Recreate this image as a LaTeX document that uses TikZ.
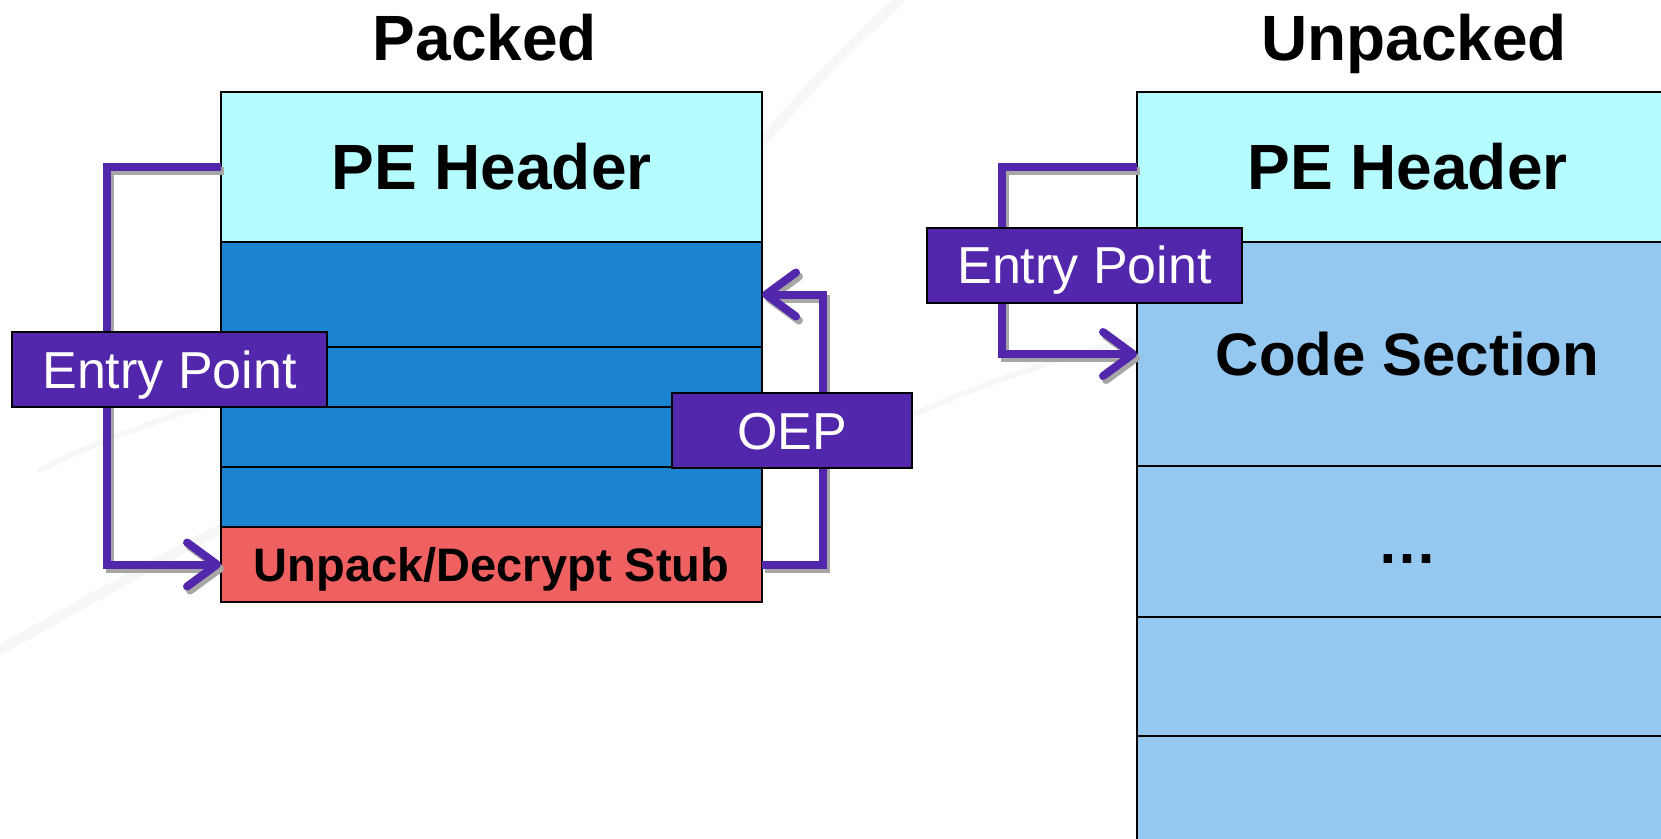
\documentclass[tikz,border=0pt]{standalone}
\usepackage{fontspec}
\setmainfont{Liberation Sans}
\usepackage{xcolor}
\usetikzlibrary{arrows.meta, calc, positioning}
\definecolor{hdrcyan}{HTML}{B4FCFF}
\definecolor{secblue}{HTML}{1C83D1}
\definecolor{seclight}{HTML}{95C8F0}
\definecolor{stubred}{HTML}{EF6060}
\definecolor{tagpurple}{HTML}{5227AB}
\tikzset{
  % section cell style
  sect/.style={
    draw
    , line width=2pt
    , minimum width=541pt
    , inner sep=0pt
    , outer sep=0pt
    , text height=45.8pt
    , text depth=0pt
    , font=\bfseries\fontsize{64}{70}\selectfont
  },
  % purple label style
  tag/.style={
    draw
    , fill=tagpurple
    , text=white
    , line width=2pt
    , minimum height=75pt
    , inner sep=0pt
    , text height=37.2pt
    , text depth=0pt
    , font=\fontsize{52}{60}\selectfont
  },
  % jump arrow style
  parr/.style={
    draw=tagpurple
    , line width=8pt
    , -{Straight Barb[length=30pt,width=44pt,round]}
  },
  % and its shadow
  pshadow/.style={
    parr
    , draw=black!35
    , transform canvas={xshift=3pt,yshift=-4pt}
  },
  ttl/.style={
    anchor=base
    , font=\bfseries\fontsize{64}{70}\selectfont
  },
}

\begin{document}
\begin{tikzpicture}[x=1pt, y=-1pt]
      \useasboundingbox (0,0) rectangle (1661,838);
      \clip (0,0) rectangle (1661,838);

      % faint streaks in the background
      \begin{scope}[black!3, line width=10pt, line cap=round]
        \draw (640,290) .. controls (720,190) and (800,90) .. (900,0);
        \draw (0,650) .. controls (160,560) and (300,480) .. (460,420);
        \draw[line width=6pt] (860,440) .. controls (960,390) and (1050,360) .. (1130,340);
        \draw[line width=6pt] (40,470) .. controls (100,440) and (160,420) .. (220,400);
      \end{scope}

      \node[ttl] (tpk) at (485,60) {Packed};
      \node[ttl] (tup) at (1414,60) {Unpacked};

      % packed image
      \node[sect, fill=hdrcyan, minimum height=150pt] (lph) at (491.5,167) {PE Header};
      \node[sect, fill=secblue, minimum height=105pt, below=0pt of lph] (lr1) {};
      \node[sect, fill=secblue, minimum height=60pt, below=0pt of lr1] (lr2) {};
      \node[sect, fill=secblue, minimum height=60pt, below=0pt of lr2] (lr3) {};
      \node[sect, fill=secblue, minimum height=60pt, below=0pt of lr3] (lr4) {};
      \node[sect, fill=stubred, minimum height=75pt, below=0pt of lr4, text height=33.7pt,
        font=\bfseries\fontsize{47}{52}\selectfont] (lstub) {Unpack/Decrypt Stub};

      % unpacked image
      \node[sect, fill=hdrcyan, minimum height=150pt] (rph) at (1407.5,167) {PE Header};
      \node[sect, fill=seclight, minimum height=224pt, below=0pt of rph, text height=43pt,
        font=\bfseries\fontsize{60}{66}\selectfont] (rcode) {Code Section};
      \node[sect, fill=seclight, minimum height=151pt, below=0pt of rcode, text height=43pt,
        font=\bfseries\fontsize{60}{66}\selectfont] (rdots) {…};
      \node[sect, fill=seclight, minimum height=119pt, below=0pt of rdots] (rr1) {};
      \node[sect, fill=seclight, minimum height=120pt, below=0pt of rr1] (rr2) {};

      \draw[pshadow] (lph.west) -- ++(-114,0) |- (lstub.west);
      \draw[parr] (lph.west) -- ++(-114,0) |- (lstub.west);

      \draw[pshadow] (lstub.east) -- ++(61,0) |- (lr1.east);
      \draw[parr] (lstub.east) -- ++(61,0) |- (lr1.east);

      \draw[pshadow] (rph.west) -- ++(-135,0) |- (rcode.west);
      \draw[parr] (rph.west) -- ++(-135,0) |- (rcode.west);

      \node[tag, minimum width=315pt] (lep) at (169.5,369.5) {Entry Point};
      \node[tag, minimum width=240pt] (oep) at (792,430.5) {OEP};
      \node[tag, minimum width=315pt] (rep) at (1084.5,265) {Entry Point};
    \end{tikzpicture}
\end{document}
